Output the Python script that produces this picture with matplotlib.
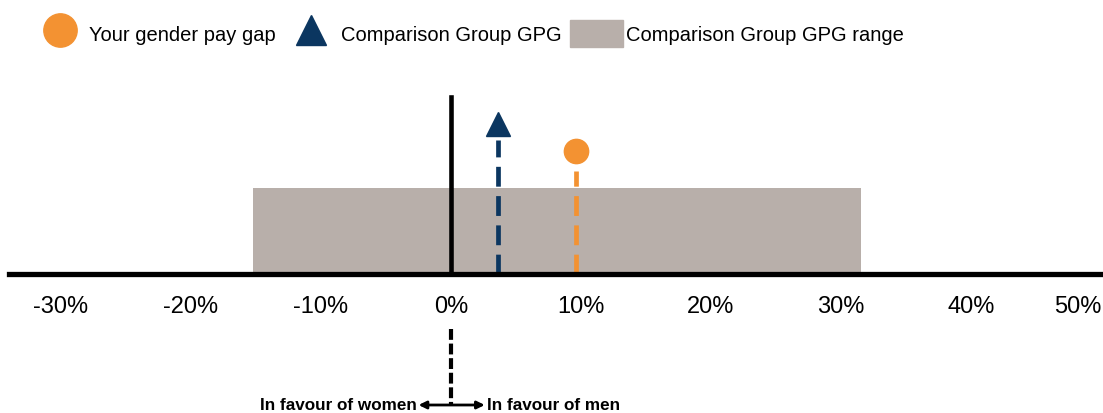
import matplotlib
matplotlib.use('Agg')
import matplotlib.pyplot as plt
from matplotlib.lines import Line2D
from matplotlib.patches import Patch

plt.rcParams['font.family'] = ['Liberation Sans', 'DejaVu Sans']

orange = '#F39232'
navy = '#0B3660'
grey = '#B8AFAA'

# data (percent)
your_gpg = 9.6
comparison_gpg = 3.6
gpg_range = [-15.2, 31.5]
tick_values = [-30, -20, -10, 0, 10, 20, 30, 40, 50]
tick_labels = ['-30%', '-20%', '-10%', '0%', '10%', '20%', '30%', '40%', '50%']
legend_labels = ['Your gender pay gap', 'Comparison Group GPG', 'Comparison Group GPG range']

fig = plt.figure(figsize=(11.03, 4.14), dpi=100)
ax = fig.add_axes([9 / 1103, 0, 1 - 9 / 1103, 1])
ax.set_xlim(-34.0, 50.15)
ax.set_ylim(-139, 275)

# range box
ax.barh(0, gpg_range[1] - gpg_range[0], height=86, left=gpg_range[0],
        align='edge', color=grey, zorder=1)

# zero line
ax.plot([0, 0], [0, 177], color='black', lw=3.3, zorder=3)

# comparison group
ax.plot([comparison_gpg, comparison_gpg], [0, 134], color=navy, lw=3.4,
        dashes=(4.2, 2.0), zorder=3)
ax.plot(comparison_gpg, 150, marker='^', ms=17, color=navy, mec=navy, zorder=4)

# your gpg
ax.plot([your_gpg, your_gpg], [0, 103], color=orange, lw=3.4,
        dashes=(4.2, 2.0), zorder=3)
ax.plot(your_gpg, 123, marker='o', ms=17.5, color=orange, mec=orange, zorder=4)

# axis
for s in ['top', 'right', 'left']:
    ax.spines[s].set_visible(False)
ax.spines['bottom'].set_position(('data', 0))
ax.spines['bottom'].set_linewidth(3.8)
ax.spines['bottom'].set_zorder(5)
ax.set_yticks([])
ax.set_xticks(tick_values)
ax.set_xticklabels(tick_labels, fontsize=17)
ax.tick_params(axis='x', length=0, pad=15)
ax.get_xticklabels()[-1].set_ha('right')
ax.patch.set_visible(False)

# direction annotation
ax.plot([0, 0], [-55, -131], color='black', lw=3, dashes=(2.6, 0.9))
ax.annotate('', xy=(-2.5, -131), xytext=(2.6, -131),
            arrowprops=dict(arrowstyle='<|-|>,head_length=0.45,head_width=0.22',
                            lw=2, color='black', shrinkA=0, shrinkB=0))
ax.text(-2.6, -131, 'In favour of women', ha='right', va='center',
        fontsize=12.3, fontweight='bold')
ax.text(2.8, -131, 'In favour of men', ha='left', va='center',
        fontsize=12.3, fontweight='bold')

handles = [
    Line2D([], [], marker='o', ls='', ms=24, color=orange),
    Line2D([], [], marker='^', ls='', ms=22, color=navy),
    Patch(facecolor=grey, edgecolor=grey),
]
fig.legend(handles, legend_labels, loc='upper left', bbox_to_anchor=(22 / 1103, 1 - 9 / 414),
           ncol=3, frameon=False, fontsize=14.5, handlelength=2.6,
           handleheight=1.7, handletextpad=0.15, columnspacing=0.45,
           borderaxespad=0.2)

fig.savefig('out.png', dpi=100)
